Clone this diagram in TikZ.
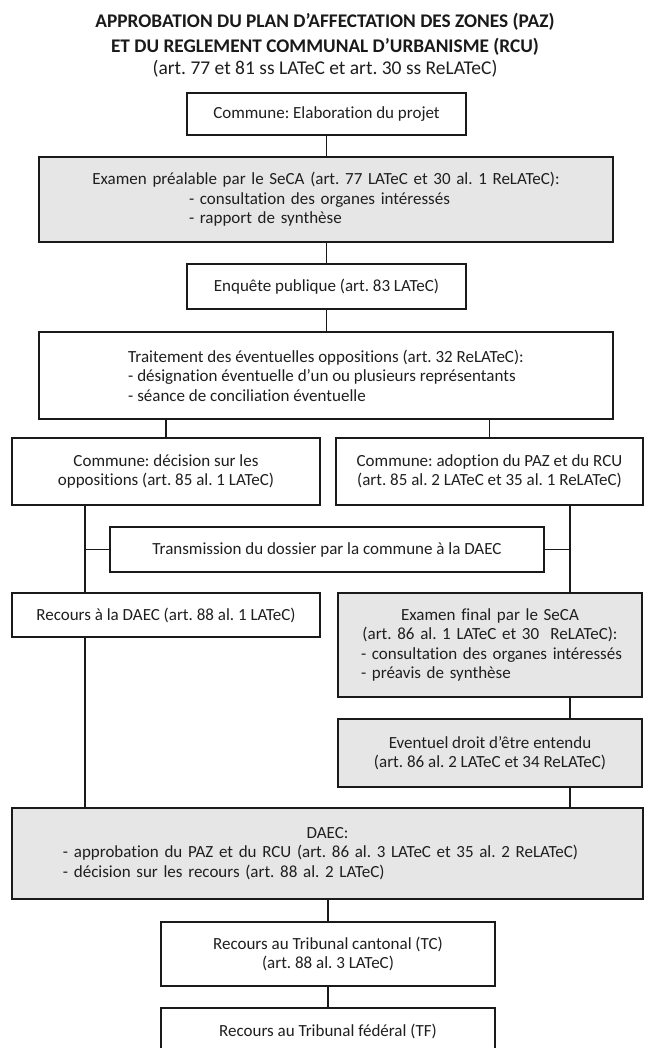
\documentclass[tikz,border=0pt]{standalone}
\usepackage{fontspec}
\setmainfont{Carlito}[Ligatures={TeX,NoCommon}]
\definecolor{lc}{HTML}{1A1A1A}
\definecolor{tc}{HTML}{1F1F1F}
\definecolor{gfill}{HTML}{E6E6E6}
\newcommand{\bodyfont}{\fontsize{17}{19.5}\selectfont}
\tikzset{
  box/.style={draw=lc, line width=1.4pt, fill=white, text=tc, inner sep=0pt, align=center, font=\bodyfont},
  gbox/.style={box, fill=gfill},
  link/.style={draw=lc, line width=1.4pt},
  titletext/.style={text=lc, inner sep=0pt, font=\fontsize{19.3}{22}\selectfont\bfseries},
  subtext/.style={text=tc, inner sep=0pt, font=\fontsize{19.5}{22}\selectfont}
}
\frenchspacing
\begin{document}
\begin{tikzpicture}[x=1pt,y=-1pt]
\path[use as bounding box] (0,0) rectangle (652,1048);
\clip (0,0) rectangle (652,1048);
\fill[white] (0,0) rectangle (652,1048);

\node[titletext] (t1) at (325,22) {APPROBATION DU PLAN D'AFFECTATION DES ZONES (PAZ)};
\node[titletext] (t2) at (325,47) {ET DU REGLEMENT COMMUNAL D'URBANISME (RCU)};
\node[subtext] (t3) at (325,69) {(art. 77 et 81 ss LATeC et art. 30 ss ReLATeC)};

\node[box, minimum width=279pt, minimum height=42pt] (commune) at (326.5,114) {Commune: Elaboration du projet};
\node[gbox, minimum width=574pt, minimum height=85pt, text width=574pt, align=left] (examen) at (326,199.5)
  {\makebox[574pt]{Examen préalable par le SeCA (art. 77 LATeC et 30 al. 1 ReLATeC):}\\
   \hspace*{150pt}- consultation des organes intéressés\\
   \hspace*{150pt}- rapport de synthèse};
\node[box, minimum width=279pt, minimum height=45pt] (enquete) at (326.5,286.5) {Enquête publique (art. 83 LATeC)};
\node[box, minimum width=574pt, minimum height=87pt, align=left] (traitement) at (326,375.5)
  {Traitement des éventuelles oppositions (art. 32 ReLATeC):\\
   - désignation éventuelle d'un ou plusieurs représentants\\
   - séance de conciliation éventuelle};
\node[box, minimum width=308pt, minimum height=67pt] (decision) at (166,471.5)
  {Commune: décision sur les\\ oppositions (art. 85 al. 1 LATeC)};
\node[box, minimum width=307pt, minimum height=67pt] (adoption) at (489.5,471.5)
  {Commune: adoption du PAZ et du RCU\\ (art. 85 al. 2 LATeC et 35 al. 1 ReLATeC)};
\node[box, minimum width=434pt, minimum height=45pt] (transmission) at (327,549.5)
  {Transmission du dossier par la commune à la DAEC};
\node[box, minimum width=308pt, minimum height=44pt] (recours) at (166,615)
  {Recours à la DAEC (art. 88 al. 1 LATeC)};
\node[gbox, minimum width=304pt, minimum height=104pt, text width=304pt, align=left] (examfinal) at (490,645)
  {\makebox[304pt]{Examen final par le SeCA}\\
   \makebox[304pt]{(art. 86 al. 1 LATeC et 30\ \ ReLATeC):}\\
   \hspace*{23pt}- consultation des organes intéressés\\
   \hspace*{23pt}- préavis de synthèse};
\node[gbox, minimum width=304pt, minimum height=68pt] (eventuel) at (490,753)
  {Eventuel droit d'être entendu\\ (art. 86 al. 2 LATeC et 34 ReLATeC)};
\node[gbox, minimum width=631pt, minimum height=91pt, text width=631pt, align=left] (daec) at (327.5,853.5)
  {\makebox[631pt]{DAEC:}\\
   \hspace*{51pt}- approbation du PAZ et du RCU (art. 86 al. 3 LATeC et 35 al. 2 ReLATeC)\\
   \hspace*{51pt}- décision sur les recours (art. 88 al. 2 LATeC)};
\node[box, minimum width=334pt, minimum height=64pt] (tc) at (328,954)
  {Recours au Tribunal cantonal (TC)\\ (art. 88 al. 3 LATeC)};
\node[box, minimum width=334pt, minimum height=64pt] (tf) at (328,1040)
  {Recours au Tribunal fédéral (TF)\\ \mbox{}};

\coordinate (lx) at (85,0);
\coordinate (rx) at (570,0);

\draw[link] (commune.south) -- (commune.south |- examen.north);
\draw[link] (examen.south -| enquete) -- (enquete.north);
\draw[link] (enquete.south) -- (enquete.south |- traitement.north);
\draw[link] (decision.north) -- (decision.north |- traitement.south);
\draw[link] (adoption.north) -- (adoption.north |- traitement.south);
\draw[link] (decision.south -| lx) -- (recours.north -| lx);
\draw[link] (transmission.west) -- (transmission.west -| lx);
\draw[link] (recours.south -| lx) -- (daec.north -| lx);
\draw[link] (adoption.south -| rx) -- (examfinal.north -| rx);
\draw[link] (transmission.east) -- (transmission.east -| rx);
\draw[link] (examfinal.south -| rx) -- (eventuel.north -| rx);
\draw[link] (eventuel.south -| rx) -- (daec.north -| rx);
\draw[link] (daec.south -| tc) -- (tc.north);
\draw[link] (tc.south) -- (tf.north);
\end{tikzpicture}
\end{document}
